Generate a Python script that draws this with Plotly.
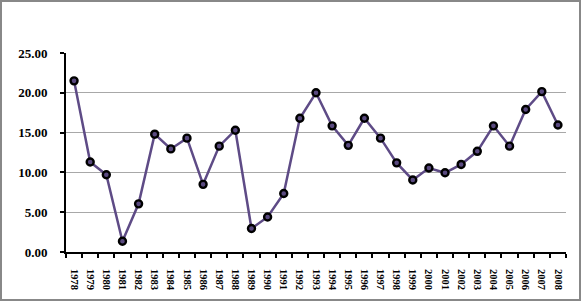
import plotly.graph_objects as go

years = [str(y) for y in range(1978, 2009)]
values = [21.5, 11.3, 9.7, 1.35, 6.05, 14.8, 12.95, 14.3, 8.5, 13.3, 15.3,
          2.95, 4.4, 7.35, 16.8, 20.0, 15.85, 13.4, 16.8, 14.3, 11.2,
          9.05, 10.55, 9.95, 11.0, 12.65, 15.85, 13.3, 17.9, 20.15, 15.95]
y_ticks = [0, 5, 10, 15, 20, 25]

W, H = 581, 302
ml, mr, mt, mb = 66, 15, 53, 50
pw, ph = W - ml - mr, H - mt - mb

fig = go.Figure()
fig.add_trace(go.Scatter(
    x=years, y=values, mode="lines+markers",
    line=dict(color="#5e4b86", width=2.5),
    marker=dict(size=7, color="#5a4a80", line=dict(color="black", width=2.4)),
    cliponaxis=False, showlegend=False,
))

def px_x(p):
    return (p - ml) / pw

def px_y(p):
    return (H - mb - p) / ph

fig.add_shape(type="rect", xref="paper", yref="paper",
              x0=px_x(1), x1=px_x(580), y0=px_y(300), y1=px_y(1),
              line=dict(color="#888888", width=2), fillcolor="rgba(0,0,0,0)")

font_fam = "Liberation Serif"
fig.update_layout(
    width=W, height=H,
    margin=dict(l=ml, r=mr, t=mt, b=mb),
    paper_bgcolor="white", plot_bgcolor="white",
    xaxis=dict(
        type="category", range=[-0.5, 30.5],
        showgrid=False, showline=True, linecolor="black", linewidth=2,
        ticks="outside", tickson="boundaries", ticklen=4, tickwidth=1.5, tickcolor="black",
        tickangle=90, ticklabelstandoff=13,
        tickfont=dict(family=font_fam, size=10.5, color="black", weight="bold"),
    ),
    yaxis=dict(
        range=[0, 25], tickvals=y_ticks, tickformat=".2f",
        showgrid=True, gridcolor="#a8a8a8", gridwidth=1,
        showline=True, linecolor="black", linewidth=2,
        ticks="outside", ticklen=4, tickwidth=1.5, tickcolor="black",
        ticklabelstandoff=10,
        zeroline=False,
        tickfont=dict(family=font_fam, size=13, color="black", weight="bold"),
    ),
)

fig.write_html("out.html")
